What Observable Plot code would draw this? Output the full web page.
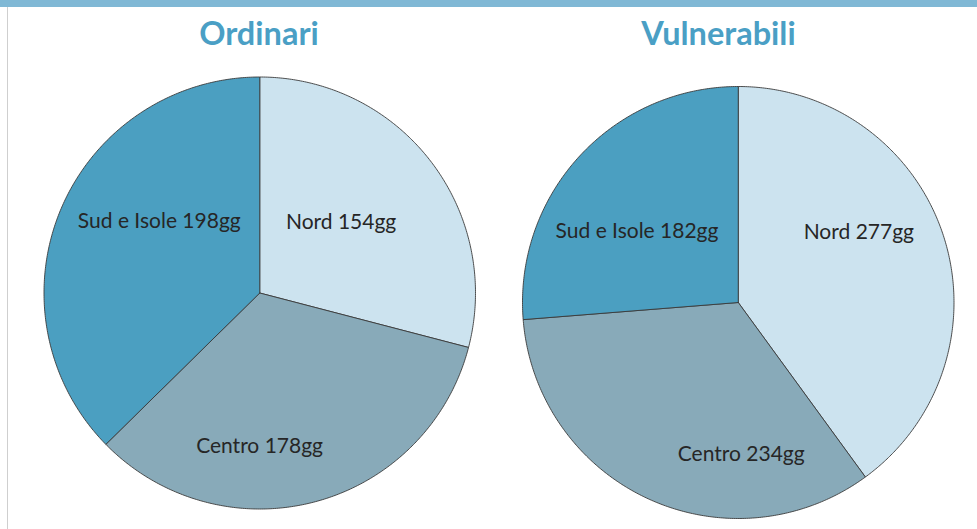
<!DOCTYPE html>
<html>
<head>
<meta charset="utf-8">
<script src="https://cdn.jsdelivr.net/npm/d3@7"></script>
<script src="https://cdn.jsdelivr.net/npm/@observablehq/plot@0.6"></script>
<style>
  html, body { margin: 0; padding: 0; background: #fff; }
  #chart { position: relative; width: 977px; height: 529px; overflow: hidden; background: #fff; font-family: Lato, "Open Sans", sans-serif; }
  #topbar { position: absolute; left: 0; top: 0; width: 977px; height: 7px; background: #80b8d5; }
  #leftline { position: absolute; left: 7px; top: 7px; width: 1px; height: 522px; background: #cfcfcf; }
  .title { position: absolute; width: 300px; text-align: center; font-family: Lato, sans-serif; font-weight: 700; font-size: 32.5px; line-height: 32px; color: #4a9fc5; }
  .pie { position: absolute; top: 0; }
  .pie svg { overflow: visible; background: transparent; }
</style>
</head>
<body>
<div id="chart">
  <div id="topbar"></div>
  <div id="leftline"></div>
</div>
<script>
// ---- Data ----
const categories = ["Nord", "Centro", "Sud e Isole"];
const ordinari = [154, 178, 198];
const vulnerabili = [277, 234, 182];
const titles = ["Ordinari", "Vulnerabili"];
const unit = "gg";

// ---- Styles ----
const sliceColors = ["#cce3ef", "#88aab9", "#4b9fc1"];

// ---- Layout (pixel frames for each pie and label nudges) ----
const frames = [
  {left: 0,   width: 489, mt: 76.5, mb: 20.5, ml: 43.5, mr: 14,   titleX: 259},
  {left: 489, width: 488, mt: 86,   mb: 11,   ml: 33,   mr: 23.5, titleX: 718.5}
];
const nudges = [
  [[-4, -5], [-28, 49], [-1, -30]],
  [[18, -37], [48, 54], [-22, 2]]
];

function slicesFor(values) {
  const arcs = d3.pie().sort(null).value(d => d)(values);
  const pts = [];
  arcs.forEach((a, i) => {
    const cat = categories[i];
    const n = Math.max(2, Math.ceil((a.endAngle - a.startAngle) / (Math.PI / 360)));
    pts.push({cat, x: 0, y: 0});
    for (let k = 0; k <= n; k++) {
      const t = a.startAngle + (a.endAngle - a.startAngle) * k / n;
      pts.push({cat, x: Math.sin(t), y: Math.cos(t)});
    }
    pts.push({cat, x: 0, y: 0});
  });
  const labels = arcs.map((a, i) => {
    const m = (a.startAngle + a.endAngle) / 2;
    return {cat: categories[i], text: `${categories[i]} ${values[i]}${unit}`, x: 0.5 * Math.sin(m), y: 0.5 * Math.cos(m)};
  });
  return {pts, labels};
}

const chart = document.getElementById("chart");
[ordinari, vulnerabili].forEach((values, p) => {
  const f = frames[p];
  const {pts, labels} = slicesFor(values);
  const marks = [
    Plot.line(pts, {x: "x", y: "y", z: "cat", fill: "cat", stroke: "#3a3a3a", strokeWidth: 0.9, strokeLinejoin: "round"})
  ];
  labels.forEach((l, i) => {
    marks.push(Plot.text([l], {x: "x", y: "y", text: "text", dx: nudges[p][i][0], dy: nudges[p][i][1],
      fill: "#262626", fontSize: 21, fontFamily: "Lato, sans-serif"}));
  });
  const svg = Plot.plot({
    width: f.width,
    height: 529,
    marginTop: f.mt, marginBottom: f.mb, marginLeft: f.ml, marginRight: f.mr,
    x: {domain: [-1, 1], axis: null},
    y: {domain: [-1, 1], axis: null},
    color: {domain: categories, range: sliceColors},
    style: {background: "transparent", overflow: "visible"},
    marks
  });
  const wrap = document.createElement("div");
  wrap.className = "pie";
  wrap.style.left = f.left + "px";
  wrap.appendChild(svg);
  chart.appendChild(wrap);

  const t = document.createElement("div");
  t.className = "title";
  t.textContent = titles[p];
  t.style.left = (f.titleX - 150) + "px";
  t.style.top = "17px";
  chart.appendChild(t);
});
</script>
</body>
</html>
